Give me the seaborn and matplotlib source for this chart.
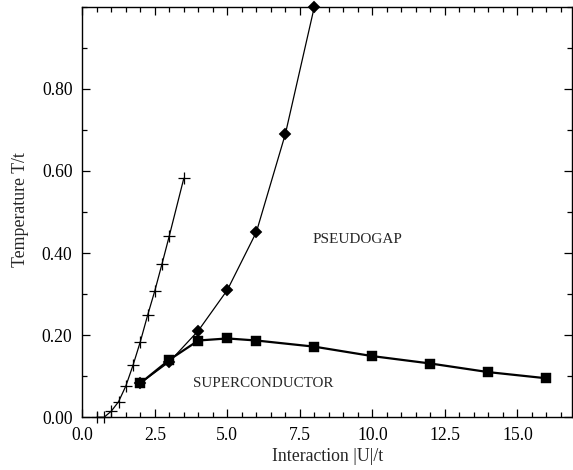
import numpy as np
import pandas as pd
import matplotlib
matplotlib.use("Agg")
import matplotlib.pyplot as plt
import seaborn as sns
from matplotlib.ticker import MultipleLocator, FormatStrFormatter

# Crossover line (plus markers)
u_cross = [0.5, 0.75, 1.0, 1.25, 1.5, 1.75, 2.0, 2.25, 2.5, 2.75, 3.0, 3.5]
t_cross = [0.0, 0.0, 0.015, 0.038, 0.076, 0.127, 0.184, 0.248, 0.308, 0.374, 0.442, 0.582]

# Pseudogap temperature (diamonds)
u_pg = [2, 3, 4, 5, 6, 7, 8]
t_pg = [0.083, 0.135, 0.211, 0.310, 0.451, 0.690, 1.000]

# Superconducting Tc (squares)
u_sc = [2, 3, 4, 5, 6, 8, 10, 12, 14, 16]
t_sc = [0.083, 0.140, 0.187, 0.192, 0.187, 0.172, 0.149, 0.131, 0.110, 0.095]

x_ticks = [0.0, 2.5, 5.0, 7.5, 10.0, 12.5, 15.0]
y_ticks = [0.0, 0.2, 0.4, 0.6, 0.8]

sns.set_theme(style="ticks")
plt.rcParams["font.family"] = ["Liberation Serif", "DejaVu Serif"]

fig = plt.figure(figsize=(5.73, 4.70), dpi=100)
ax = fig.add_axes([0.1436, 0.1121, 0.9983 - 0.1436, 0.986 - 0.1121])

sns.lineplot(x=u_cross, y=t_cross, ax=ax, sort=False, estimator=None,
             color="black", lw=0.9, marker="+", markersize=9,
             markeredgecolor="black", markeredgewidth=0.9, clip_on=False)
sns.lineplot(x=u_pg, y=t_pg, ax=ax, sort=False, estimator=None,
             color="black", lw=0.9, marker="D", markersize=6.6,
             markeredgecolor="black", markeredgewidth=0.3, clip_on=False)
sns.lineplot(x=u_sc, y=t_sc, ax=ax, sort=False, estimator=None,
             color="black", lw=1.6, marker="s", markersize=7.5,
             markeredgecolor="black", markeredgewidth=0.3, clip_on=False)

ax.set_xlim(0, 16.88)
ax.set_ylim(0, 1.0)
ax.set_xticks(x_ticks)
ax.set_yticks(y_ticks)
ax.xaxis.set_minor_locator(MultipleLocator(0.5))
ax.yaxis.set_minor_locator(MultipleLocator(0.1))
ax.xaxis.set_major_formatter(FormatStrFormatter("%.1f"))
ax.yaxis.set_major_formatter(FormatStrFormatter("%.2f"))

ax.tick_params(which="both", direction="in", top=True, right=True,
               colors="black", labelsize=12.7, width=0.9)
ax.tick_params(which="major", length=6, pad=7)
ax.tick_params(which="minor", length=3.5)
for s in ax.spines.values():
    s.set_color("black")
    s.set_linewidth(1.0)

ax.set_xlabel("Interaction |U|/t", fontsize=12.8, labelpad=3)
ax.set_ylabel("Temperature T/t", fontsize=12.8, labelpad=8)
ax.yaxis.set_label_coords(-0.108, 0.505)

ax.text(7.95, 0.432, "PSEUDOGAP", fontsize=11, ha="left", va="center")
ax.text(3.8, 0.083, "SUPERCONDUCTOR", fontsize=10.8, ha="left", va="center")

fig.savefig("out.png", dpi=100)
